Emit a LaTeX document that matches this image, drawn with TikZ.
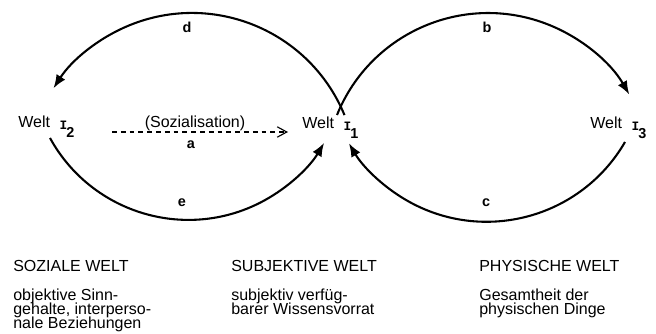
\documentclass[tikz,border=0pt]{standalone}
\usepackage{fontspec}
\setmainfont{Liberation Sans}
\newfontfamily\slabfont{Liberation Mono}
\usetikzlibrary{arrows.meta}
\newcommand{\weltnr}[1]{Welt\hspace{6pt}\raisebox{-1.8pt}{\slabfont\fontsize{8}{8}\selectfont\bfseries I}\hspace{-.6pt}\raisebox{-6.8pt}{\fontsize{9}{9}\selectfont\bfseries #1}}
\newcommand{\tightlines}{\fontsize{10}{8.75}\selectfont\lineskiplimit=-20pt\relax}

\begin{document}
\begin{tikzpicture}[x=0.625pt,y=-0.625pt,>=Latex,
  welt/.style={anchor=base west,inner sep=0pt,font=\fontsize{10}{12}\selectfont},
  lab/.style={inner sep=0pt,font=\fontsize{9}{9}\selectfont\bfseries},
  bow/.style={line width=1.3pt,-{Latex[length=8.5pt,width=6.5pt]}},
  txt/.style={anchor=base west,inner sep=0pt,align=left,font=\tightlines}]
\useasboundingbox (0,0) rectangle (656,334);
\node[welt] (w2) at (18,127) {\weltnr{2}};\node[welt] (w1) at (302,128) {\weltnr{1}};\node[welt] (w3) at (590,128) {\weltnr{3}};
% Sozialisation
\coordinate (s0) at (112,132);\coordinate (s1) at (288,132);
\draw[line width=.7pt,dash pattern=on 3pt off 2.5pt,-{Straight Barb[length=6pt,width=6.5pt]}] (s0)--(s1);
\node[welt,anchor=base] (soz) at (195,127) {(Sozialisation)};\node[lab] (la) at (191,145) {a};
% Boegen
\coordinate (d0) at (344.5,115.1);\coordinate (b0) at (337,115);\coordinate (e0) at (50,138);\coordinate (c0) at (625,142);
\draw[bow] (d0) arc[start angle=-22.4,end angle=-147.1,radius=165];
\draw[bow] (b0) arc[start angle=-158,end angle=-30,radius=163];
\draw[bow] (e0) arc[start angle=151.2,end angle=30.8,radius=158];
\draw[bow] (c0) arc[start angle=30.1,end angle=149.4,radius=160];
\node[lab] (ld) at (187,27) {d};\node[lab] (lb) at (487,27) {b};\node[lab] (le) at (182,203) {e};\node[lab] (lc) at (486,203) {c};
% Welten (base = letzte Zeile)
\node[txt] (h2) at (13,271) {SOZIALE WELT};\node[txt] (t2) at (13,328) {objektive Sinn-\\gehalte, interperso-\\nale Beziehungen};
\node[txt] (h1) at (231,271) {SUBJEKTIVE WELT};\node[txt] (t1) at (231,314) {subjektiv verfüg-\\barer Wissensvorrat};
\node[txt] (h3) at (479,271) {PHYSISCHE WELT};\node[txt] (t3) at (479,314) {Gesamtheit der\\physischen Dinge};
\end{tikzpicture}
\end{document}
